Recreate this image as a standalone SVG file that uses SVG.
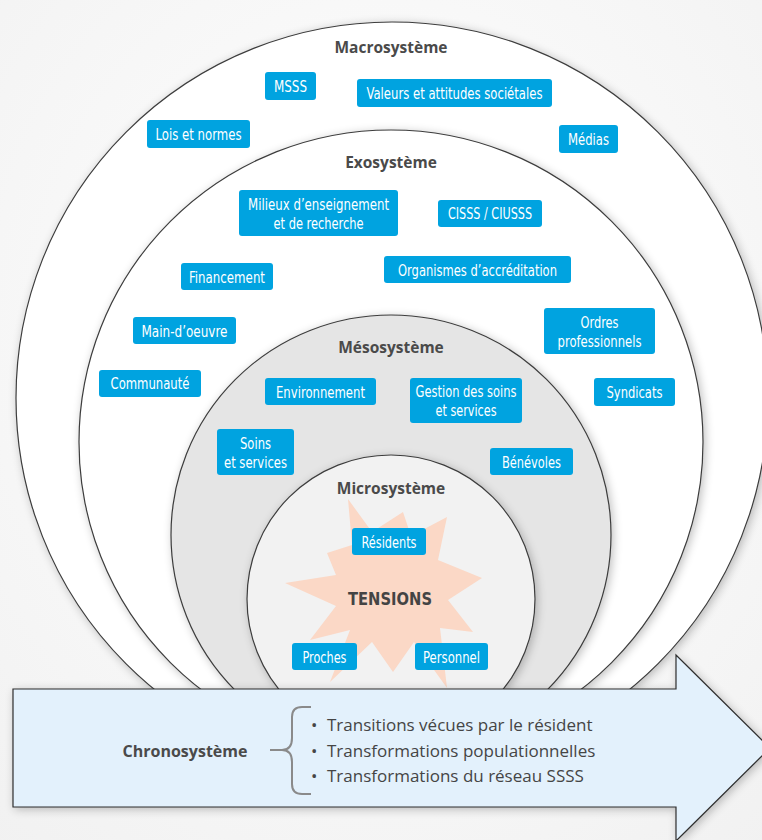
<svg xmlns="http://www.w3.org/2000/svg" width="762" height="840" viewBox="0 0 762 840">
<defs>
<radialGradient id="bg" cx="0.5" cy="0.4" r="0.8">
<stop offset="0" stop-color="#ffffff"/>
<stop offset="1" stop-color="#f1f1f1"/>
</radialGradient>
<filter id="sh" x="-20%" y="-20%" width="140%" height="140%">
<feGaussianBlur in="SourceAlpha" stdDeviation="5"/>
<feOffset dx="2" dy="2" result="b"/>
<feComponentTransfer><feFuncA type="linear" slope="0.25"/></feComponentTransfer>
<feMerge><feMergeNode/><feMergeNode in="SourceGraphic"/></feMerge>
</filter>
<clipPath id="above"><rect x="0" y="0" width="762" height="690"/></clipPath>
</defs>
<style>
.ring{stroke:#3d3d3d;stroke-width:1.2}
.title{font-family:"Open Sans","Liberation Sans",sans-serif;font-weight:bold;font-size:15.5px;fill:#4a4a4a;text-anchor:middle}
.box{fill:#00a3e0}
.bt{font-family:"DejaVu Sans Condensed","Liberation Sans Narrow","Roboto Condensed","Liberation Sans",sans-serif;font-stretch:condensed;font-size:15.5px;fill:#ffffff;text-anchor:middle}
.tens{font-family:"DejaVu Sans","Liberation Sans",sans-serif;font-weight:bold;font-size:17px;fill:#444;text-anchor:middle}
.li{font-family:"Open Sans","Liberation Sans",sans-serif;font-size:17px;fill:#454545}
.brace{fill:none;stroke:#8a8a8a;stroke-width:2}
</style>
<rect width="762" height="840" fill="url(#bg)"/>

<g id="rings" clip-path="url(#above)">
<g id="macrosysteme"><circle class="ring" cx="392" cy="398" r="376" fill="#ffffff" filter="url(#sh)"/></g>
<g id="exosysteme"><circle class="ring" cx="391" cy="442" r="312" fill="#ffffff" filter="url(#sh)"/></g>
<g id="mesosysteme"><circle class="ring" cx="391" cy="535" r="220" fill="#e5e5e5" filter="url(#sh)"/></g>
<g id="microsysteme"><circle class="ring" cx="391" cy="599" r="144" fill="#f2f2f2" filter="url(#sh)"/></g>
</g>

<g id="tensions">
<polygon fill="#fbd8c6" points="348,499 372,532 403,512 411,536 447,517 438,560 482,578 448,600 473,632 440,628 447,688 414,642 393,672 372,642 330,682 350,630 310,640 336,606 285,583 336,575 327,553 352,545"/>
<text class="tens" x="390" y="605" textLength="84" lengthAdjust="spacingAndGlyphs">TENSIONS</text>
</g>

<g id="titles">
<text class="title" x="391" y="53">Macrosystème</text>
<text class="title" x="391" y="168">Exosystème</text>
<text class="title" x="391" y="353">Mésosystème</text>
<text class="title" x="391" y="494">Microsystème</text>
</g>

<g id="n-msss"><rect class="box" x="265" y="72" width="51" height="28" rx="3"/><text class="bt" x="290.5" y="92" textLength="33" lengthAdjust="spacingAndGlyphs">MSSS</text></g>
<g id="n-valeurs"><rect class="box" x="357" y="79" width="195" height="28" rx="3"/><text class="bt" x="454.5" y="99" textLength="176" lengthAdjust="spacingAndGlyphs">Valeurs et attitudes sociétales</text></g>
<g id="n-lois"><rect class="box" x="147" y="120" width="103" height="28" rx="3"/><text class="bt" x="198.5" y="140" textLength="86" lengthAdjust="spacingAndGlyphs">Lois et normes</text></g>
<g id="n-medias"><rect class="box" x="559" y="125" width="59" height="28" rx="3"/><text class="bt" x="588.5" y="145" textLength="41" lengthAdjust="spacingAndGlyphs">Médias</text></g>
<g id="n-milieux"><rect class="box" x="239" y="190" width="159" height="46" rx="3"/><text class="bt" x="318.5" y="210" textLength="141" lengthAdjust="spacingAndGlyphs">Milieux d’enseignement</text><text class="bt" x="318.5" y="229" textLength="90" lengthAdjust="spacingAndGlyphs">et de recherche</text></g>
<g id="n-cisss"><rect class="box" x="438" y="200" width="104" height="27" rx="3"/><text class="bt" x="490" y="219" textLength="84" lengthAdjust="spacingAndGlyphs">CISSS / CIUSSS</text></g>
<g id="n-financement"><rect class="box" x="181" y="263" width="92" height="27" rx="3"/><text class="bt" x="227" y="283" textLength="76" lengthAdjust="spacingAndGlyphs">Financement</text></g>
<g id="n-organismes"><rect class="box" x="384" y="256" width="187" height="27" rx="3"/><text class="bt" x="477.5" y="276" textLength="159" lengthAdjust="spacingAndGlyphs">Organismes d’accréditation</text></g>
<g id="n-main"><rect class="box" x="133" y="317" width="103" height="27" rx="3"/><text class="bt" x="184.5" y="337" textLength="86" lengthAdjust="spacingAndGlyphs">Main-d’oeuvre</text></g>
<g id="n-ordres"><rect class="box" x="544" y="308" width="111" height="46" rx="3"/><text class="bt" x="599.5" y="328" textLength="38" lengthAdjust="spacingAndGlyphs">Ordres</text><text class="bt" x="599.5" y="347" textLength="84" lengthAdjust="spacingAndGlyphs">professionnels</text></g>
<g id="n-communaute"><rect class="box" x="99" y="370" width="102" height="27" rx="3"/><text class="bt" x="150" y="389" textLength="79" lengthAdjust="spacingAndGlyphs">Communauté</text></g>
<g id="n-environnement"><rect class="box" x="265" y="378" width="111" height="27" rx="3"/><text class="bt" x="320.5" y="398" textLength="89" lengthAdjust="spacingAndGlyphs">Environnement</text></g>
<g id="n-gestion"><rect class="box" x="410" y="378" width="112" height="45" rx="3"/><text class="bt" x="466" y="397" textLength="101" lengthAdjust="spacingAndGlyphs">Gestion des soins</text><text class="bt" x="466" y="416" textLength="61" lengthAdjust="spacingAndGlyphs">et services</text></g>
<g id="n-syndicats"><rect class="box" x="594" y="378" width="81" height="28" rx="3"/><text class="bt" x="634.5" y="398" textLength="56" lengthAdjust="spacingAndGlyphs">Syndicats</text></g>
<g id="n-soins"><rect class="box" x="217" y="429" width="77" height="46" rx="3"/><text class="bt" x="255.5" y="449" textLength="31" lengthAdjust="spacingAndGlyphs">Soins</text><text class="bt" x="255.5" y="468" textLength="63" lengthAdjust="spacingAndGlyphs">et services</text></g>
<g id="n-benevoles"><rect class="box" x="490" y="448" width="83" height="27" rx="3"/><text class="bt" x="531.5" y="468" textLength="59" lengthAdjust="spacingAndGlyphs">Bénévoles</text></g>
<g id="n-residents"><rect class="box" x="352" y="528" width="74" height="27" rx="3"/><text class="bt" x="389" y="548" textLength="55" lengthAdjust="spacingAndGlyphs">Résidents</text></g>
<g id="n-proches"><rect class="box" x="292" y="643" width="65" height="27" rx="3"/><text class="bt" x="324.5" y="663" textLength="44" lengthAdjust="spacingAndGlyphs">Proches</text></g>
<g id="n-personnel"><rect class="box" x="415" y="643" width="73" height="27" rx="3"/><text class="bt" x="451.5" y="663" textLength="57" lengthAdjust="spacingAndGlyphs">Personnel</text></g>

<g id="chronosysteme">
<path d="M13,689 H676 V655 L770,748 L676,841 V807 H13 Z" fill="#e3f1fc" stroke="#2f2f2f" stroke-width="1.2" filter="url(#sh)"/>
<text class="title" x="185" y="757" style="font-size:16px">Chronosystème</text>
<text class="li" x="311" y="731">•</text><text class="li" x="327" y="731">Transitions vécues par le résident</text>
<text class="li" x="311" y="757">•</text><text class="li" x="327" y="757">Transformations populationnelles</text>
<text class="li" x="311" y="782">•</text><text class="li" x="327" y="782">Transformations du réseau SSSS</text>
</g>

<g id="connectors">
<path class="brace" d="M311,707 H302 Q292,707 292,717 V738 Q292,750 282,750 H270 M282,750 Q292,750 292,762 V784 Q292,794 302,794 H311"/>
</g>
</svg>
